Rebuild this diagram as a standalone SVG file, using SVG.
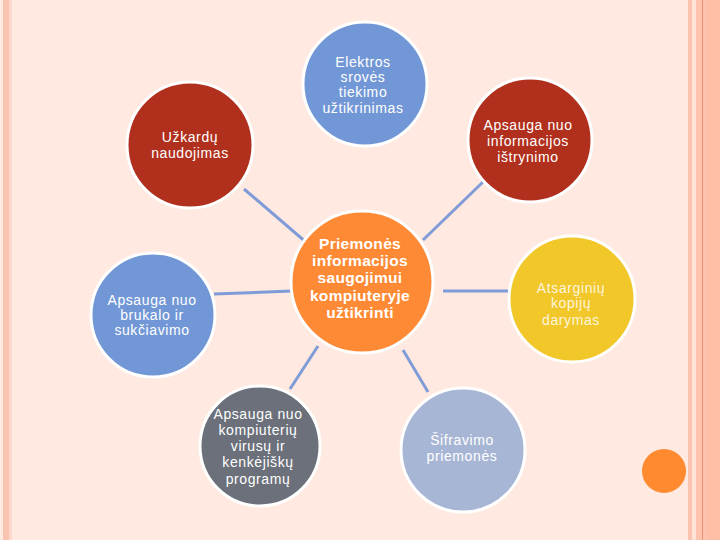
<svg xmlns="http://www.w3.org/2000/svg" width="720" height="540" viewBox="0 0 720 540">
<style>
.t{font-family:"Liberation Sans",Arial,sans-serif;font-size:14px;fill:#fff;text-anchor:middle;letter-spacing:0.6px}
.b{font-weight:bold;font-size:15.5px;letter-spacing:0.3px}
.c{stroke:#fff;stroke-width:3}
.ln{stroke:#7F9CD8;stroke-width:3;fill:none}
</style>
<rect width="720" height="540" fill="#FFE9E0"/>
<rect x="3" y="0" width="6" height="540" fill="#F9C3B0"/>
<rect x="9" y="0" width="3" height="540" fill="#FDD9CB"/>
<rect x="688" y="0" width="4" height="540" fill="#F9C3B0"/>
<rect x="692" y="0" width="4" height="540" fill="#FFE3D8"/>
<rect x="696" y="0" width="24" height="540" fill="#FFC2AC"/>
<rect x="702" y="0" width="1" height="540" fill="#EE9470"/>
<rect x="707" y="0" width="13" height="540" fill="#FFBEA6"/>
<g id="connectors">
<line class="ln" x1="244" y1="189" x2="307" y2="243"/>
<line class="ln" x1="484" y1="181" x2="423" y2="240"/>
<line class="ln" x1="214" y1="294" x2="292" y2="291"/>
<line class="ln" x1="508" y1="291" x2="443" y2="291"/>
<line class="ln" x1="290" y1="389" x2="318" y2="346"/>
<line class="ln" x1="428" y1="392" x2="403" y2="350"/>
</g>
<g id="n-elektros">
<circle class="c" cx="365" cy="84" r="62" fill="#7297D6"/>
<text class="t" x="363" y="67">Elektros</text>
<text class="t" x="363" y="82">srovės</text>
<text class="t" x="363" y="97">tiekimo</text>
<text class="t" x="363" y="113">užtikrinimas</text>
</g>
<g id="n-uzkardu">
<circle class="c" cx="190" cy="145" r="63" fill="#B1301D"/>
<text class="t" x="190" y="142">Užkardų</text>
<text class="t" x="190" y="158">naudojimas</text>
</g>
<g id="n-istrynimo">
<circle class="c" cx="530" cy="140" r="62" fill="#B1301D"/>
<text class="t" x="528" y="130">Apsauga nuo</text>
<text class="t" x="528" y="146">informacijos</text>
<text class="t" x="528" y="162">ištrynimo</text>
</g>
<g id="n-center">
<circle class="c" cx="362" cy="282" r="71" fill="#FF8A35"/>
<text class="t b" x="360" y="249">Priemonės</text>
<text class="t b" x="360" y="266">informacijos</text>
<text class="t b" x="360" y="283">saugojimui</text>
<text class="t b" x="360" y="301">kompiuteryje</text>
<text class="t b" x="360" y="318">užtikrinti</text>
</g>
<g id="n-brukalo">
<circle class="c" cx="153" cy="315" r="62" fill="#7297D6"/>
<text class="t" x="152" y="305">Apsauga nuo</text>
<text class="t" x="152" y="320">brukalo ir</text>
<text class="t" x="152" y="335">sukčiavimo</text>
</g>
<g id="n-atsarginiu">
<circle class="c" cx="572" cy="299" r="63" fill="#F2C72A"/>
<text class="t" x="571" y="293" fill-opacity="0.85">Atsarginių</text>
<text class="t" x="571" y="308" fill-opacity="0.85">kopijų</text>
<text class="t" x="571" y="325" fill-opacity="0.85">darymas</text>
</g>
<g id="n-kompiuteriu">
<circle class="c" cx="260" cy="446" r="60" fill="#6B707A"/>
<text class="t" x="258" y="419">Apsauga nuo</text>
<text class="t" x="258" y="435">kompiuterių</text>
<text class="t" x="258" y="451">virusų ir</text>
<text class="t" x="258" y="467">kenkėjiškų</text>
<text class="t" x="258" y="484">programų</text>
</g>
<g id="n-sifravimo">
<circle class="c" cx="463" cy="450" r="62" fill="#A8B6D5"/>
<text class="t" x="462" y="445">Šifravimo</text>
<text class="t" x="462" y="461">priemonės</text>
</g>
<g id="dot">
<circle cx="664" cy="471" r="22" fill="#FF8A30"/>
</g>
</svg>
